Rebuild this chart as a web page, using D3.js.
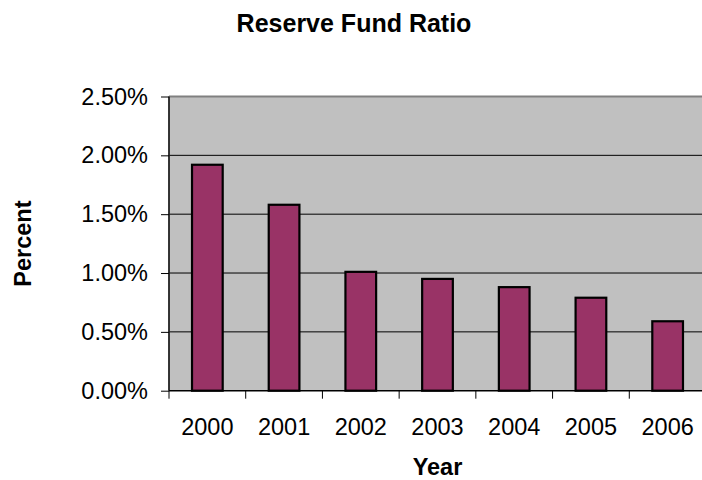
<!DOCTYPE html>
<html>
<head>
<meta charset="utf-8">
<script src="https://cdn.jsdelivr.net/npm/d3@7"></script>
<style>
  html, body { margin: 0; padding: 0; background: #fff; overflow: hidden; }
  text { font-family: "Liberation Sans", Arial, sans-serif; fill: #000; }
</style>
</head>
<body>
<svg id="chart" width="702" height="480"></svg>
<script>
const years = ["2000", "2001", "2002", "2003", "2004", "2005", "2006"];
const ratios = [0.0192, 0.0158, 0.0101, 0.0095, 0.0088, 0.0079, 0.0059];
const yTicks = [0, 0.005, 0.010, 0.015, 0.020, 0.025];
const titleText = "Reserve Fund Ratio";
const xTitle = "Year";
const yTitle = "Percent";

const svg = d3.select("#chart");
const L = 169, R = 706, T = 96.5, B = 390.7;

const x = d3.scaleBand().domain(years).range([L, R]).padding(0);
const y = d3.scaleLinear().domain([0, 0.025]).range([B, T]);

// plot area
svg.append("rect").attr("x", L).attr("y", T).attr("width", R - L).attr("height", B - T)
  .attr("fill", "#C0C0C0");

// gridlines
svg.append("g").selectAll("line").data(yTicks.filter(d => d > 0 && d < 0.025)).join("line")
  .attr("x1", L).attr("x2", R).attr("y1", d => y(d)).attr("y2", d => y(d))
  .attr("stroke", "#000").attr("stroke-width", 1);

// top border
svg.append("line").attr("x1", L).attr("x2", R).attr("y1", T).attr("y2", T)
  .attr("stroke", "#808080").attr("stroke-width", 2);

// bars
svg.append("g").selectAll("rect").data(years).join("rect")
  .attr("x", (d) => x(d) + x.bandwidth() * 0.3)
  .attr("width", x.bandwidth() * 0.4)
  .attr("y", (d, i) => y(ratios[i]))
  .attr("height", (d, i) => B - y(ratios[i]))
  .attr("fill", "#993366").attr("stroke", "#000").attr("stroke-width", 2.2);

// y axis
const yAxis = svg.append("g").attr("transform", `translate(${L},0)`)
  .call(d3.axisLeft(y).tickValues(yTicks).tickFormat(d3.format(".2%")).tickSize(8).tickPadding(13));
yAxis.select(".domain").attr("stroke", "#222").attr("stroke-width", 1.8).attr("d", `M0,${T}V${B}`);
yAxis.selectAll(".tick line").attr("stroke", "#000");
yAxis.selectAll("text").style("font-size", "23.5px").style("font-family", "'Liberation Sans', Arial, sans-serif");

// x axis labels
const xAxis = svg.append("g").attr("transform", `translate(0,${B})`)
  .call(d3.axisBottom(x).tickSize(0).tickPadding(27.6));
xAxis.select(".domain").attr("stroke", "#000").attr("stroke-width", 1.5).attr("d", `M${L},0H${R}`);
xAxis.selectAll("text").style("font-size", "23.5px").style("font-family", "'Liberation Sans', Arial, sans-serif");

// x boundary ticks
svg.append("g").selectAll("line").data(years).join("line")
  .attr("x1", d => x(d)).attr("x2", d => x(d))
  .attr("y1", B).attr("y2", B + 8).attr("stroke", "#000").attr("stroke-width", 1);

// titles
svg.append("text").attr("x", 354).attr("y", 31.5).attr("text-anchor", "middle")
  .style("font-size", "25px").style("font-weight", "bold").text(titleText);
svg.append("text").attr("x", (L + R) / 2).attr("y", 475).attr("text-anchor", "middle")
  .style("font-size", "23.5px").style("font-weight", "bold").text(xTitle);
svg.append("text").attr("transform", `translate(30.5,${(T + B) / 2}) rotate(-90)`)
  .attr("text-anchor", "middle")
  .style("font-size", "23.5px").style("font-weight", "bold").text(yTitle);
</script>
</body>
</html>
